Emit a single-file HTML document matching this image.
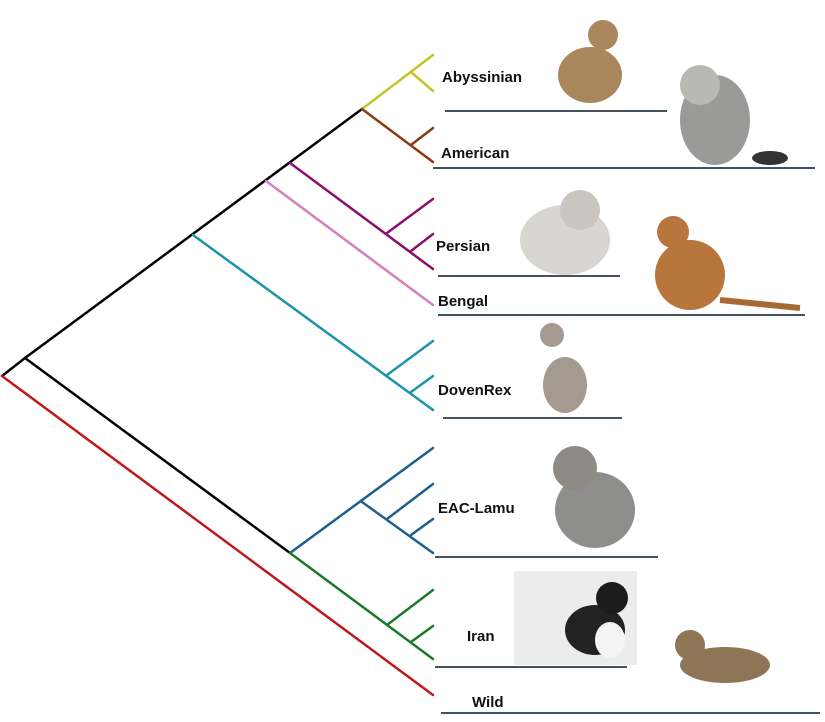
<!DOCTYPE html>
<html><head><meta charset="utf-8"><style>
html,body{margin:0;padding:0;background:#fff;}
svg{display:block;}
text{font-family:"Liberation Sans",sans-serif;font-weight:bold;font-size:15px;fill:#111;}
</style></head><body>
<svg width="825" height="722" viewBox="0 0 825 722" xmlns="http://www.w3.org/2000/svg">
<g fill="none" stroke-width="2.5" stroke-linecap="round">
<!-- black backbone -->
<polyline points="2,376 25,358 362,109" stroke="#000"/>
<line x1="25" y1="358" x2="290" y2="553" stroke="#000"/>
<!-- red -->
<line x1="2" y1="376" x2="433" y2="695" stroke="#c0191c"/>
<!-- yellow -->
<line x1="362" y1="109" x2="433" y2="55" stroke="#bfc626"/>
<line x1="411" y1="72" x2="433" y2="91" stroke="#bfc626"/>
<!-- brown -->
<line x1="362" y1="109" x2="433" y2="162" stroke="#8b3a12"/>
<line x1="411" y1="145" x2="433" y2="128" stroke="#8b3a12"/>
<!-- purple -->
<line x1="290" y1="163" x2="433" y2="269" stroke="#8a0f6e"/>
<line x1="387" y1="233" x2="433" y2="199" stroke="#8a0f6e"/>
<line x1="411" y1="251" x2="433" y2="234" stroke="#8a0f6e"/>
<!-- pink -->
<line x1="266" y1="181" x2="433" y2="305" stroke="#d67fb8"/>
<!-- teal -->
<line x1="193" y1="235" x2="433" y2="410" stroke="#1c95a8"/>
<line x1="387" y1="375" x2="433" y2="341" stroke="#1c95a8"/>
<line x1="411" y1="392" x2="433" y2="376" stroke="#1c95a8"/>
<!-- blue -->
<line x1="290" y1="553" x2="433" y2="448" stroke="#1f5f8c"/>
<line x1="362" y1="502" x2="433" y2="553" stroke="#1f5f8c"/>
<line x1="387" y1="519" x2="433" y2="484" stroke="#1f5f8c"/>
<line x1="411" y1="535" x2="433" y2="519" stroke="#1f5f8c"/>
<!-- green -->
<line x1="290" y1="553" x2="433" y2="659" stroke="#1b7a2a"/>
<line x1="387" y1="625" x2="433" y2="590" stroke="#1b7a2a"/>
<line x1="411" y1="642" x2="433" y2="626" stroke="#1b7a2a"/>
</g>
<!-- cat placeholders -->
<rect x="514" y="571" width="123" height="94" fill="#ececec"/>
<g>
<ellipse cx="590" cy="75" rx="32" ry="28" fill="#a9865c"/><circle cx="603" cy="35" r="15" fill="#a9865c"/>
<ellipse cx="715" cy="120" rx="35" ry="45" fill="#9a9a98"/><circle cx="700" cy="85" r="20" fill="#b8b8b4"/><ellipse cx="770" cy="158" rx="18" ry="7" fill="#333"/>
<ellipse cx="565" cy="240" rx="45" ry="35" fill="#d8d6d2"/><circle cx="580" cy="210" r="20" fill="#c9c5bf"/>
<ellipse cx="690" cy="275" rx="35" ry="35" fill="#b8763c"/><circle cx="673" cy="232" r="16" fill="#b8763c"/><line x1="720" y1="300" x2="800" y2="308" stroke="#a86a35" stroke-width="6"/>
<ellipse cx="565" cy="385" rx="22" ry="28" fill="#a59a90"/><circle cx="552" cy="335" r="12" fill="#a59a90"/>
<ellipse cx="595" cy="510" rx="40" ry="38" fill="#8e8e8c"/><circle cx="575" cy="468" r="22" fill="#8e8a84"/>
<ellipse cx="595" cy="630" rx="30" ry="25" fill="#222"/><circle cx="612" cy="598" r="16" fill="#1c1c1c"/><ellipse cx="610" cy="640" rx="15" ry="18" fill="#f4f4f4"/>
<ellipse cx="725" cy="665" rx="45" ry="18" fill="#8e7556"/><circle cx="690" cy="645" r="15" fill="#8e7556"/>
</g>
<!-- underlines -->
<g stroke="#2c3a48" stroke-width="1.8">
<line x1="445" y1="111" x2="667" y2="111"/>
<line x1="433" y1="168" x2="815" y2="168"/>
<line x1="438" y1="276" x2="620" y2="276"/>
<line x1="438" y1="315" x2="805" y2="315"/>
<line x1="443" y1="418" x2="622" y2="418"/>
<line x1="435" y1="557" x2="658" y2="557"/>
<line x1="435" y1="667" x2="627" y2="667"/>
<line x1="441" y1="713" x2="820" y2="713"/>
</g>
<text x="442" y="82">Abyssinian</text>
<text x="441" y="158">American</text>
<text x="436" y="251">Persian</text>
<text x="438" y="306">Bengal</text>
<text x="438" y="395">DovenRex</text>
<text x="438" y="513">EAC-Lamu</text>
<text x="467" y="641">Iran</text>
<text x="472" y="707">Wild</text>
</svg>
</body></html>
